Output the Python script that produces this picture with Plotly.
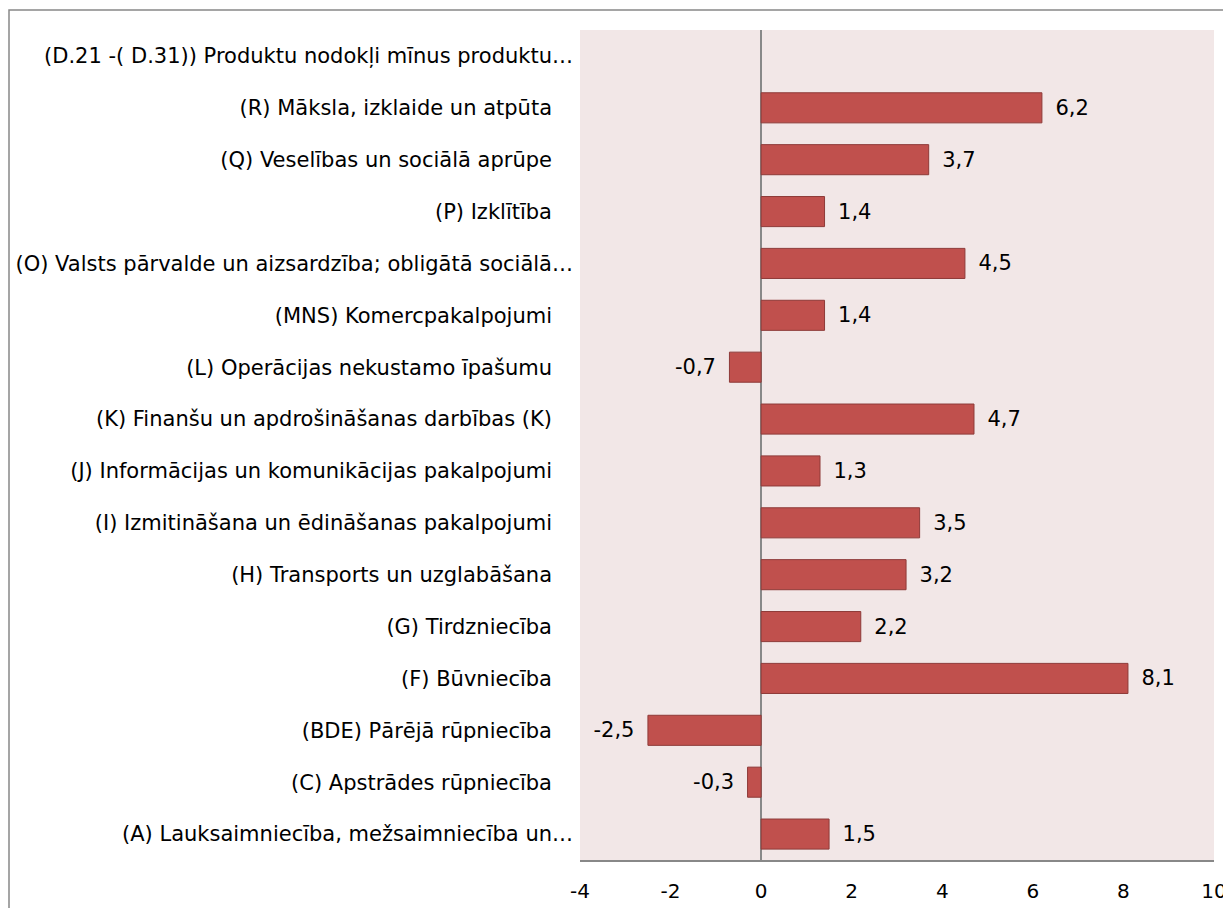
import plotly.graph_objects as go

# --- data (bottom to top) ---
categories = [
    "(A) Lauksaimniecība, mežsaimniecība un…",
    "(C) Apstrādes rūpniecība",
    "(BDE) Pārējā rūpniecība",
    "(F) Būvniecība",
    "(G) Tirdzniecība",
    "(H) Transports un uzglabāšana",
    "(I) Izmitināšana un ēdināšanas pakalpojumi",
    "(J) Informācijas un komunikācijas pakalpojumi",
    "(K) Finanšu un apdrošināšanas darbības (K)",
    "(L) Operācijas nekustamo īpašumu",
    "(MNS) Komercpakalpojumi",
    "(O) Valsts pārvalde un aizsardzība; obligātā sociālā…",
    "(P) Izklītība",
    "(Q) Veselības un sociālā aprūpe",
    "(R) Māksla, izklaide un atpūta",
    "(D.21 -( D.31)) Produktu nodokļi mīnus produktu…",
]
values = [1.5, -0.3, -2.5, 8.1, 2.2, 3.2, 3.5, 1.3, 4.7, -0.7, 1.4, 4.5, 1.4, 3.7, 6.2, None]
x_ticks = [-4, -2, 0, 2, 4, 6, 8, 10]
x_ticktext = ["-4", "-2", "0", "2", "4", "6", "8", "10"]

BAR = "#C0504D"
BAR_EDGE = "#8E3A38"
PLOT_BG = "#F2E7E7"
AXIS_GREY = "#888888"
FONT = "DejaVu Sans"
FSIZE = 21

# figure size / margins (page body adds an 8px offset)
W, H = 1223, 900
ML, MR, MT, MB = 572, 17, 22, 48
plot_w = W - ML - MR
plot_h = H - MT - MB

# Excel keeps a little padding after un-truncated labels
ticktext = [c if c.endswith("…") else c + "\u2002\u2002" for c in categories]

labels = []
for v in values:
    if v is None:
        labels.append("")
    elif v >= 0:
        labels.append("\u2002" + f"{v:.1f}".replace(".", ","))
    else:
        labels.append(f"{v:.1f}".replace(".", ",") + "\u2002")

fig = go.Figure(go.Bar(
    x=values, y=categories, orientation="h",
    marker=dict(color=BAR, line=dict(color=BAR_EDGE, width=1)),
    text=labels, textposition="outside", cliponaxis=False,
    textfont=dict(family=FONT, size=FSIZE, color="#000000"),
))

# chart-area border: left and top edges only are inside the window
border = dict(type="rect", xref="paper", yref="paper",
              x0=(1 - ML) / plot_w, x1=1 + 40 / plot_w,
              y0=-150 / plot_h, y1=1 + (MT - 2) / plot_h,
              line=dict(color=AXIS_GREY, width=1.5), layer="below")

fig.update_layout(
    width=W, height=H,
    margin=dict(l=ML, r=MR, t=MT, b=MB),
    paper_bgcolor="white", plot_bgcolor=PLOT_BG,
    bargap=0.42, showlegend=False,
    font=dict(family=FONT, size=FSIZE, color="#000000"),
    shapes=[border],
)
fig.update_xaxes(
    range=[-4, 10], tickvals=x_ticks, ticktext=x_ticktext,
    showgrid=False, zeroline=True, zerolinecolor=AXIS_GREY, zerolinewidth=2,
    showline=True, linecolor=AXIS_GREY, linewidth=2, ticks="",
    tickfont=dict(family=FONT, size=20), ticklabelstandoff=12,
    ticklabeloverflow="allow", automargin=False,
)
fig.update_yaxes(
    categoryorder="array", categoryarray=categories,
    tickvals=categories, ticktext=ticktext,
    showgrid=False, showline=False, ticks="",
    tickfont=dict(family=FONT, size=FSIZE), ticklabelstandoff=6,
    automargin=False,
)

fig.write_html("out.html")
